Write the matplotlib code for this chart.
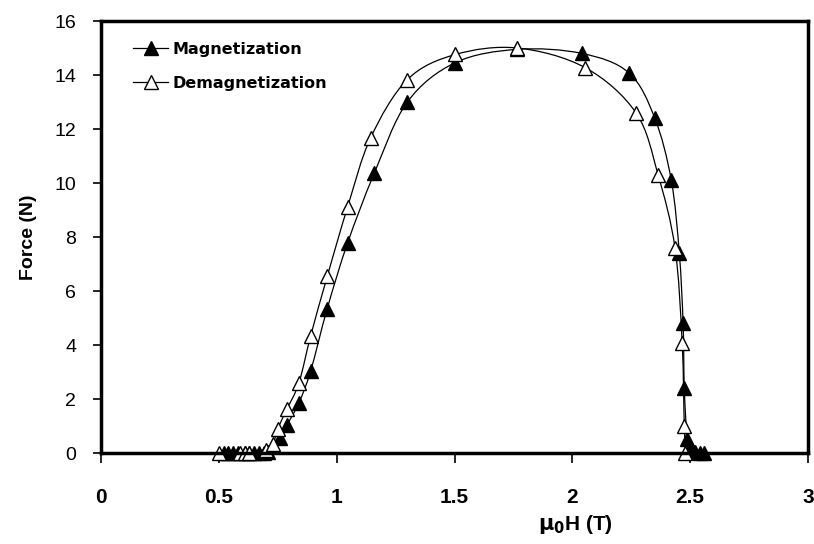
import numpy as np
import matplotlib
matplotlib.use("Agg")
import matplotlib.pyplot as plt
from matplotlib.path import Path
from matplotlib.patches import PathPatch

# ---- data ----
mag_x = [0.52, 0.54, 0.56, 0.58, 0.61, 0.63, 0.65, 0.67, 0.69, 0.71, 0.73, 0.76,
         0.79, 0.84, 0.89, 0.96, 1.046, 1.16, 1.30, 1.504, 1.767, 2.04, 2.24,
         2.35, 2.42, 2.454, 2.47, 2.475, 2.487, 2.50, 2.52, 2.54, 2.56]
mag_y = [0, 0, 0, 0, 0, 0, 0, 0, 0, 0.05, 0.26, 0.56,
         1.05, 1.86, 3.05, 5.35, 7.77, 10.37, 13.0, 14.46, 14.95, 14.8, 14.08,
         12.4, 10.1, 7.4, 4.8, 2.42, 0.52, 0.2, 0.05, 0, 0]

demag_x = [0.50, 0.59, 0.61, 0.63, 0.70, 0.73, 0.75, 0.79, 0.84, 0.89, 0.96, 1.046,
           1.144, 1.30, 1.504, 1.767, 2.055, 2.27, 2.364, 2.436, 2.466, 2.475, 2.48]
demag_y = [0, 0, 0, 0, 0.1, 0.33, 0.9, 1.64, 2.6, 4.35, 6.54, 9.1,
           11.67, 13.83, 14.76, 15.0, 14.27, 12.6, 10.3, 7.58, 4.09, 1.0, 0]

x_ticks = [0, 0.5, 1, 1.5, 2, 2.5, 3]
x_tick_labels = ["0", "0.5", "1", "1.5", "2", "2.5", "3"]
y_ticks = [0, 2, 4, 6, 8, 10, 12, 14, 16]

narrow = ["Liberation Sans Narrow", "Liberation Sans", "DejaVu Sans"]
sans = ["Liberation Sans", "DejaVu Sans"]


def smooth_path(xs, ys, t=0.5 / 3):
    """Excel-like smoothed line expressed as a cubic Bezier path."""
    P = np.column_stack([xs, ys]).astype(float)
    n = len(P)
    verts = [P[0]]
    codes = [Path.MOVETO]
    for i in range(n - 1):
        p0 = P[i - 1] if i > 0 else P[i]
        p1 = P[i]
        p2 = P[i + 1]
        p3 = P[i + 2] if i + 2 < n else P[i + 1]
        c1 = p1 + (p2 - p0) * t
        c2 = p2 - (p3 - p1) * t
        verts += [c1, c2, p2]
        codes += [Path.CURVE4] * 3
    return Path(verts, codes)


fig = plt.figure(figsize=(8.14, 5.44), dpi=100)
ax = fig.add_axes([101 / 814, 91 / 544, 707 / 814, 432 / 544])

for xs, ys in [(mag_x, mag_y), (demag_x, demag_y)]:
    ax.add_patch(PathPatch(smooth_path(xs, ys), facecolor="none",
                           edgecolor="black", lw=0.9, zorder=2))

ax.plot(mag_x, mag_y, linestyle="none", marker="^", markersize=10,
        markerfacecolor="black", markeredgecolor="black", zorder=3,
        clip_on=False)
ax.plot(demag_x, demag_y, linestyle="none", marker="^", markersize=10,
        markerfacecolor="white", markeredgecolor="black", markeredgewidth=1.0,
        zorder=4, clip_on=False)

# legend handles
h1, = ax.plot([], [], color="black", lw=0.9, marker="^", markersize=10,
              markerfacecolor="black", markeredgecolor="black")
h2, = ax.plot([], [], color="black", lw=0.9, marker="^", markersize=10,
              markerfacecolor="white", markeredgecolor="black")
leg = ax.legend([h1, h2], ["Magnetization", "Demagnetization"],
                loc="upper left", bbox_to_anchor=(0.025, 0.985), frameon=False,
                handlelength=2.2, handletextpad=0.3, labelspacing=1.2,
                prop={"family": "DejaVu Sans", "weight": "bold", "size": 11.5})

ax.set_xlim(0, 3)
ax.set_ylim(0, 16)
ax.set_xticks(x_ticks)
ax.set_xticklabels(x_tick_labels, fontfamily=narrow, fontweight="bold",
                   fontsize=15)
ax.set_yticks(y_ticks)
ax.set_yticklabels([str(v) for v in y_ticks], fontfamily=sans, fontsize=14)
ax.tick_params(axis="x", direction="out", length=7, width=1.2, pad=18)
ax.tick_params(axis="y", direction="out", length=6, width=1.2, pad=12)
for s in ax.spines.values():
    s.set_linewidth(2.5)
    s.set_color("black")
    s.set_zorder(5)

ax.set_ylabel("Force (N)", fontfamily=sans, fontweight="bold", fontsize=14,
              labelpad=12)
fig.text(575 / 814, 1 - 524 / 544, r"$\mathbf{\mu_0}$H (T)", ha="center",
         va="center", fontfamily=narrow, fontweight="bold", fontsize=15)

fig.savefig("out.png", dpi=100)
